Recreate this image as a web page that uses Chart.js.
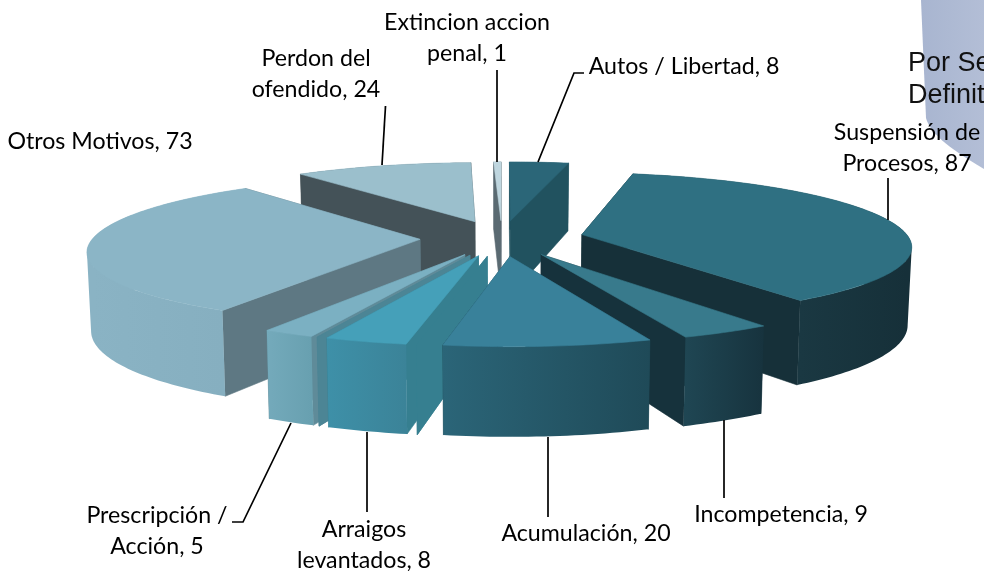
<!DOCTYPE html>
<html><head><meta charset="utf-8">
<script src="https://cdn.jsdelivr.net/npm/chart.js@4"></script>
<style>html,body{margin:0;padding:0;background:#fff}canvas{display:block}</style>
</head><body><canvas id="c" width="984" height="571"></canvas>
<script>
const categories=["Autos / Libertad","Suspensión de\nProcesos","Incompetencia","Acumulación","","Arraigos\nlevantados","","Prescripción /\nAcción","Otros Motivos","Perdon del\nofendido","Extincion accion\npenal"];
const values=[8,87,9,20,0,8,0,5,73,24,1];
const topColors=["#2B6678","#2F7082","#387A8C","#39819A","#367F90","#45A0B9","#4C8595","#7BB0C2","#8BB5C6","#9BBFCC","#BFD6DF"];
const wallColors=["#21525F","#163039","#16323C","#1F4A58","#367F90","#367F90","#4C8595","#5F8B99","#5E7883","#445258","#5A6A72"];
const outerFrom=["#21525F","#1A3842","#1F4653","#2B6578","#367F90","#3E90A8","#4C8595","#74AABB","#8AB3C4","#445258","#5A6A72"];
const outerTo=["#21525F","#163039","#17333E","#1F4A58","#367F90","#3B8398","#4C8595","#68A0B0","#86AFC0","#445258","#5A6A72"];
const labelSpots=[[684,67],[907,133],[781,515],[586,534],null,[364,530],null,[157,516],[100,142],[316,59],[467,23]];
const leaders=[[[584,73],[574,73],[538,162]],[[888,178],[888,220]],[[724,498],[724,420]],[[548,517],[548,437]],null,[[367,512],[367,432]],null,[[232,522],[243,522],[291,423]],null,[[385.5,106],[382,165]],[[497,70],[497,162]]];

const CX=502,CY=238,KY=0.219,DIST=2317,RADIUS=327,DEPTH=77,EXPLODE=82,SHRINK=0.99;
function proj(x,y,low){
  const s=1/(1-y/DIST),f=low?SHRINK:1;
  return [CX+x*s*f,CY+KY*y*s+(low?DEPTH*(1+(s-1)*0.8):0)];
}
function poly(ctx,pts,fill){
  ctx.beginPath();pts.forEach((p,i)=>i?ctx.lineTo(p[0],p[1]):ctx.moveTo(p[0],p[1]));
  ctx.closePath();ctx.fillStyle=fill;ctx.fill();ctx.strokeStyle=fill;ctx.lineWidth=0.6;ctx.stroke();
}
function band(ctx,top,bot,fill){
  ctx.beginPath();
  for(let k=0;k<top.length-1;k++){
    let q=[top[k],top[k+1],bot[k+1],bot[k]],area=0;
    q.forEach((p,j)=>{const n=q[(j+1)%4];area+=p[0]*n[1]-n[0]*p[1];});
    if(area<0)q=q.reverse();
    q.forEach((p,j)=>j?ctx.lineTo(p[0],p[1]):ctx.moveTo(p[0],p[1]));
    ctx.closePath();
  }
  ctx.fillStyle=fill;ctx.fill('nonzero');
}
function pie3d(ctx,meta){
  const items=meta.data.map((arc,i)=>{
    const a0=arc.startAngle+Math.PI/2,a1=arc.endAngle+Math.PI/2,mid=(a0+a1)/2;
    return {i,a0,a1,ox:EXPLODE*Math.sin(mid),oy:-EXPLODE*Math.cos(mid)};
  }).sort((p,q)=>p.oy-q.oy);
  items.forEach(it=>{
    const rim=(t)=>[it.ox+RADIUS*Math.sin(t),it.oy-RADIUS*Math.cos(t)];
    const arcPts=(from,to,low)=>{const n=Math.max(2,Math.ceil((to-from)/0.02)),r=[];
      for(let k=0;k<=n;k++){const q=rim(from+(to-from)*k/n);r.push(proj(q[0],q[1],low));}return r;};
    const wall=(t)=>{const q=rim(t);return [proj(it.ox,it.oy,false),proj(q[0],q[1],false),proj(q[0],q[1],true),proj(it.ox,it.oy,true)];};
    const facing=(t,sign)=>{const nx=Math.cos(t)*sign,ny=Math.sin(t)*sign;return nx*(0-it.ox)+ny*(DIST-it.oy)>0;};
    const outer=(from,to,front)=>{
      if(to<=from)return;
      const top=arcPts(from,to,false),bot=arcPts(from,to,true);
      let fill=outerTo[it.i];
      if(front){const g=ctx.createLinearGradient(top[0][0],0,top[top.length-1][0],0);
        g.addColorStop(0,outerTo[it.i]);g.addColorStop(1,outerFrom[it.i]);fill=g;}
      band(ctx,top,bot,fill);
    };
    const spans=[];let st=it.a0;
    [Math.PI/2,Math.PI*1.5].forEach(b=>{if(b>it.a0&&b<it.a1){spans.push([st,b]);st=b;}});
    spans.push([st,it.a1]);
    spans.filter(s=>Math.cos((s[0]+s[1])/2)>0).forEach(s=>outer(s[0],s[1],false));
    const startVis=facing(it.a0,-1),endVis=facing(it.a1,1);
    if(!startVis)poly(ctx,wall(it.a0),wallColors[it.i]);
    if(!endVis)poly(ctx,wall(it.a1),wallColors[it.i]);
    if(startVis)poly(ctx,wall(it.a0),wallColors[it.i]);
    if(endVis)poly(ctx,wall(it.a1),wallColors[it.i]);
    spans.filter(s=>Math.cos((s[0]+s[1])/2)<=0).forEach(s=>outer(s[0],s[1],true));
    if(it.a1>it.a0) poly(ctx,[proj(it.ox,it.oy,false)].concat(arcPts(it.a0,it.a1,false)),topColors[it.i]);
  });
}
const plugin3d={
  id:'pie3d',
  beforeDatasetsDraw(chart){
    const ctx=chart.ctx;ctx.save();
    const g=ctx.createLinearGradient(921,0,984,0);g.addColorStop(0,'#A8B5D0');g.addColorStop(1,'#B3BED6');
    ctx.beginPath();ctx.moveTo(921,0);ctx.lineTo(926,118);ctx.bezierCurveTo(930,132,945,146,984,169);ctx.lineTo(984,0);ctx.closePath();
    ctx.fillStyle=g;ctx.fill();
    ctx.fillStyle='#111';ctx.font='27px "Liberation Sans"';ctx.textAlign='left';ctx.textBaseline='alphabetic';
    ctx.fillText('Por Se',908,71);ctx.fillText('Definit',908,103);
    pie3d(ctx,chart.getDatasetMeta(0));
    ctx.restore();
    return false;
  },
  afterDraw(chart){
    const ctx=chart.ctx;ctx.save();
    ctx.strokeStyle='#000';ctx.lineWidth=1.7;
    leaders.forEach(l=>{if(!l)return;ctx.beginPath();l.forEach((p,i)=>i?ctx.lineTo(p[0],p[1]):ctx.moveTo(p[0],p[1]));ctx.stroke();});
    ctx.fillStyle='#000';ctx.font='23.2px Lato';ctx.textAlign='center';ctx.textBaseline='middle';
    categories.forEach((c,i)=>{
      if(!labelSpots[i])return;
      (c+', '+values[i]).split('\n').forEach((t,k)=>ctx.fillText(t,labelSpots[i][0],labelSpots[i][1]+k*31));
    });
    ctx.restore();
  }
};
new Chart(document.getElementById('c'),{
  type:'pie',
  data:{labels:categories,datasets:[{data:values,backgroundColor:topColors,borderWidth:0}]},
  options:{responsive:false,animation:false,plugins:{legend:{display:false},tooltip:{enabled:false}}},
  plugins:[plugin3d]
});
</script></body></html>
